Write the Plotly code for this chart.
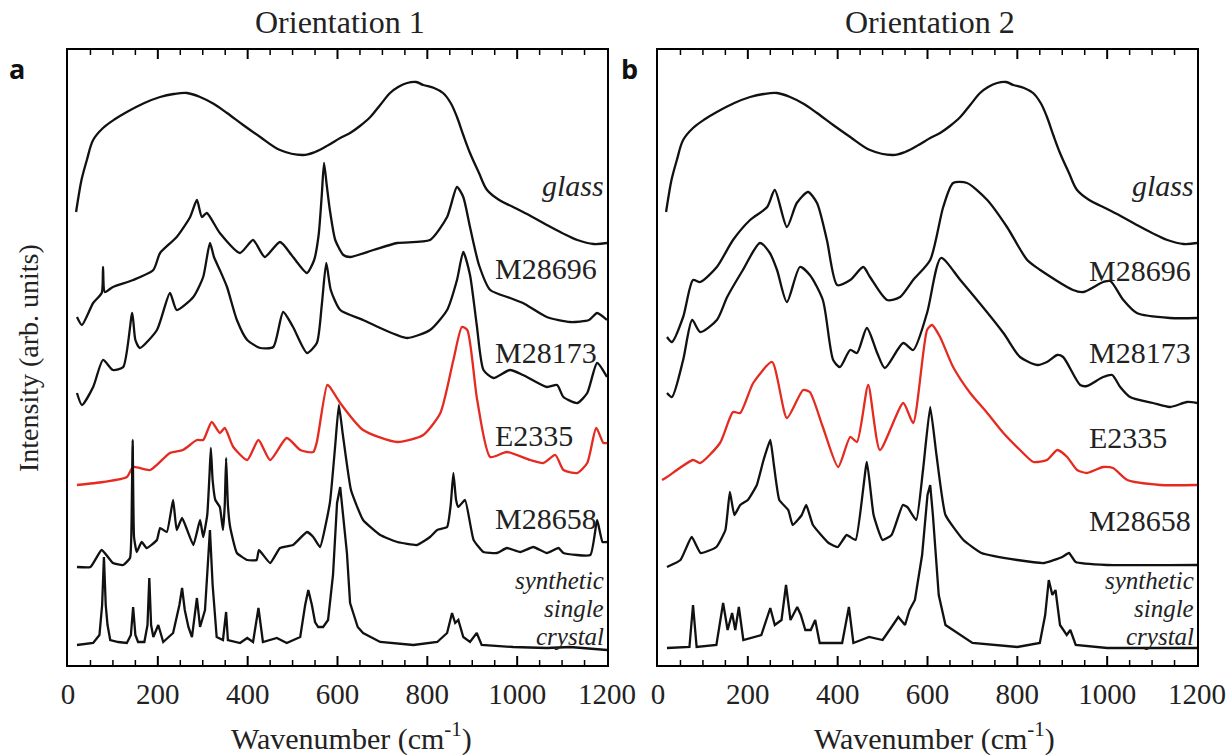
import plotly.graph_objects as go

# ---------------- data (wavenumber cm-1, intensity arb. units incl. vertical offset) -------------
glass_w = [18, 24, 30, 42, 56, 78, 105, 131, 170, 205, 235, 265, 294, 325, 354, 390, 428, 472, 523, 550,
           580, 606, 628, 650, 673, 695, 717, 735, 755, 775, 791, 815, 835, 852, 866, 880, 895, 915, 933,
           960, 991, 1030, 1066, 1100, 1134, 1170, 1200]
glass_i = [453, 470, 485, 505, 525, 537, 546, 553, 562, 568, 571, 572, 568, 561, 552, 540, 528, 515, 510, 513,
           520, 527, 532, 539, 548, 560, 572, 578, 582, 583, 580, 577, 572, 562, 548, 530, 512, 492, 475,
           465, 458, 449, 440, 432, 425, 421, 422]

# Orientation 1
m696a_w = [20, 31, 56, 75, 78, 82, 100, 145, 190, 205, 242, 272, 287, 298, 309, 338, 383, 412, 438, 472,
           501, 532, 548, 558, 565, 570, 576, 583, 595, 613, 628, 680, 733, 806, 844, 866, 880, 895, 915,
           940, 984, 1013, 1066, 1118, 1160, 1178, 1200]
m696a_i = [348, 340, 362, 372, 398, 373, 378, 385, 395, 412, 428, 448, 465, 448, 452, 432, 412, 425, 408, 423,
           408, 392, 405, 430, 470, 502, 480, 455, 425, 410, 408, 415, 422, 425, 448, 478, 468, 438, 400,
           375, 367, 362, 348, 343, 345, 352, 345]

m173a_w = [20, 31, 56, 78, 100, 123, 143, 150, 160, 198, 227, 242, 279, 301, 316, 325, 338, 354, 376, 399,
           428, 457, 479, 501, 532, 554, 565, 575, 585, 606, 657, 695, 755, 806, 844, 866, 880, 895, 910,
           925, 947, 984, 1013, 1066, 1089, 1103, 1134, 1156, 1178, 1200]
m173a_i = [272, 260, 278, 305, 295, 298, 352, 325, 317, 335, 372, 355, 368, 388, 422, 408, 395, 378, 345, 325,
           317, 318, 353, 338, 312, 322, 360, 402, 375, 355, 345, 337, 327, 335, 355, 385, 413, 390, 340,
           295, 287, 295, 290, 278, 280, 268, 262, 272, 302, 288]

e2335a_w = [20, 78, 131, 145, 183, 227, 256, 287, 301, 320, 338, 349, 368, 399, 424, 450, 487, 517, 546, 554,
            577, 583, 606, 657, 733, 791, 829, 858, 877, 889, 911, 940, 977, 1029, 1058, 1085, 1103, 1134,
            1156, 1176, 1192, 1200]
e2335a_i = [180, 183, 188, 198, 195, 212, 215, 225, 225, 243, 232, 237, 218, 205, 225, 205, 227, 215, 213, 223,
            280, 278, 262, 235, 223, 230, 252, 305, 338, 335, 265, 208, 213, 205, 202, 210, 195, 192,
            202, 237, 222, 222]

m658a_w = [20, 50, 75, 100, 123, 138, 141, 144, 147, 153, 164, 175, 198, 205, 220, 234, 242, 254, 279, 294,
           301, 310, 315, 318, 322, 328, 338, 345, 349, 352, 356, 361, 376, 399, 420, 425, 450, 472, 501,
           532, 546, 561, 583, 595, 603, 612, 630, 657, 695, 733, 777, 806, 822, 844, 852, 858, 864, 869,
           884, 903, 925, 955, 977, 1007, 1036, 1066, 1092, 1103, 1163, 1178, 1190, 1200]
m658a_i = [98, 98, 115, 102, 100, 107, 130, 225, 128, 113, 123, 117, 125, 137, 133, 165, 135, 147, 120, 145,
           128, 150, 190, 217, 185, 165, 158, 135, 160, 207, 160, 138, 112, 105, 105, 115, 102, 117, 120,
           133, 128, 118, 162, 220, 260, 230, 175, 145, 130, 123, 120, 128, 135, 138, 160, 192, 165, 158,
           165, 125, 113, 112, 117, 113, 118, 112, 117, 112, 110, 145, 123, 123]

syna_w = [20, 56, 70, 76, 80, 84, 88, 94, 112, 131, 140, 145, 150, 156, 170, 177, 181, 185, 190, 201, 212,
          234, 238, 248, 254, 260, 268, 276, 287, 294, 305, 312, 316, 322, 331, 345, 352, 356, 383, 399,
          412, 424, 434, 465, 487, 517, 528, 535, 543, 550, 557, 568, 579, 590, 599, 606, 614, 621, 628,
          645, 657, 695, 769, 822, 844, 855, 862, 869, 880, 895, 910, 921, 991, 1066, 1118, 1200]
syna_i = [20, 22, 30, 60, 108, 60, 40, 25, 23, 22, 30, 58, 30, 23, 23, 40, 87, 40, 28, 40, 23,
          32, 40, 60, 77, 55, 38, 28, 67, 38, 55, 100, 135, 80, 28, 25, 53, 25, 22, 27,
          23, 57, 23, 27, 22, 28, 60, 75, 60, 43, 38, 38, 45, 90, 162, 178, 140, 112, 62,
          38, 32, 23, 20, 23, 32, 52, 42, 45, 28, 23, 32, 20, 18, 17, 18, 15]

# Orientation 2
m696b_w = [20, 31, 56, 78, 94, 131, 167, 205, 243, 260, 287, 309, 334, 354, 376, 399, 428, 457, 472, 510,
           539, 568, 606, 635, 657, 688, 733, 777, 822, 851, 924, 947, 991, 1007, 1036, 1066, 1140, 1200]
m696b_i = [328, 323, 348, 385, 383, 398, 425, 445, 458, 475, 438, 462, 473, 462, 425, 380, 385, 398, 388, 365,
           368, 385, 405, 458, 482, 482, 465, 438, 405, 395, 375, 373, 383, 384, 365, 352, 347, 347]

m173b_w = [20, 31, 56, 76, 94, 131, 154, 189, 227, 249, 265, 287, 316, 338, 367, 390, 405, 428, 443, 465,
           488, 505, 546, 568, 599, 630, 673, 769, 806, 844, 866, 889, 902, 940, 955, 991, 1011, 1029, 1051,
           1102, 1140, 1178, 1200]
m173b_i = [272, 268, 305, 345, 333, 345, 368, 395, 422, 412, 395, 363, 398, 390, 365, 305, 298, 315, 312, 337,
           312, 297, 322, 315, 352, 407, 385, 332, 308, 300, 303, 310, 308, 280, 279, 288, 290, 278, 268,
           262, 258, 263, 262]

e2335b_w = [9, 20, 78, 94, 138, 167, 183, 212, 254, 287, 323, 338, 367, 401, 428, 443, 468, 494, 546, 568,
            599, 610, 628, 657, 695, 733, 769, 806, 836, 866, 889, 911, 933, 955, 991, 1013, 1045, 1118, 1200]
e2335b_i = [185, 188, 205, 202, 222, 253, 252, 282, 303, 247, 275, 273, 238, 198, 228, 223, 280, 215, 262, 242,
            335, 340, 328, 298, 272, 252, 232, 215, 203, 205, 215, 208, 195, 192, 198, 197, 185, 180, 180]

m658b_w = [20, 50, 75, 95, 130, 150, 160, 170, 183, 200, 220, 235, 250, 258, 270, 290, 300, 320, 330, 345,
           380, 400, 420, 440, 465, 480, 500, 520, 545, 555, 575, 590, 606, 620, 640, 680, 720, 800, 860,
           900, 915, 930, 1000, 1200]
m658b_i = [98, 105, 128, 112, 118, 135, 173, 150, 160, 165, 180, 205, 225, 200, 165, 155, 140, 150, 160, 140,
           122, 118, 130, 125, 203, 150, 125, 130, 160, 158, 145, 195, 258, 210, 150, 125, 112, 105, 102,
           108, 112, 103, 100, 100]

synb_w = [20, 70, 78, 86, 130, 145, 155, 165, 172, 180, 190, 230, 250, 260, 275, 285, 295, 310, 318, 328,
          340, 350, 360, 410, 425, 435, 470, 500, 520, 535, 550, 560, 572, 588, 600, 606, 612, 625, 640,
          700, 800, 850, 862, 870, 878, 885, 895, 910, 918, 930, 1000, 1200]
synb_i = [17, 18, 60, 18, 20, 62, 35, 52, 35, 58, 25, 30, 57, 40, 45, 80, 45, 58, 50, 35,
          35, 45, 22, 22, 58, 22, 28, 25, 38, 48, 40, 55, 65, 110, 170, 180, 150, 70, 40,
          22, 18, 22, 50, 85, 70, 75, 40, 30, 35, 20, 17, 17]

labels = ["M28696", "M28173", "E2335", "M28658"]
label_y_a = [397, 313, 230, 147]
label_y_b = [395, 313, 228, 145]
label_x_a = 947
label_x_b = 955
glass_y = 480
synth_lines = ["synthetic", "single", "crystal"]
synth_y = [85, 57, 29]

X_MAX = 1200
MAJOR_STEP = 200
MINOR_STEP = 50

BLACK = "#111111"
RED = "#e52a20"
SERIF = "Liberation Serif, Times New Roman, serif"

fig = go.Figure()

# smooth broad spectra, keep sharp ones linear
panel_a = [(glass_w, glass_i, BLACK, 1.0), (m696a_w, m696a_i, BLACK, 0.6), (m173a_w, m173a_i, BLACK, 0.6),
           (e2335a_w, e2335a_i, RED, 0.6), (m658a_w, m658a_i, BLACK, 0.4), (syna_w, syna_i, BLACK, 0)]
panel_b = [(glass_w, glass_i, BLACK, 1.0), (m696b_w, m696b_i, BLACK, 0.7), (m173b_w, m173b_i, BLACK, 0.7),
           (e2335b_w, e2335b_i, RED, 0.6), (m658b_w, m658b_i, BLACK, 0.4), (synb_w, synb_i, BLACK, 0)]

def add(panel, xa, yax):
    for xs, ys, c, sm in panel:
        line = dict(color=c, width=2.3)
        if sm > 0:
            line.update(shape="spline", smoothing=sm)
        fig.add_trace(go.Scatter(x=xs, y=ys, mode="lines", line=line,
                                 xaxis=xa, yaxis=yax, showlegend=False, hoverinfo="skip"))

add(panel_a, "x", "y")
add(panel_b, "x2", "y2")

W, H = 1227, 756
def px(x):
    return x / W
def py(y):
    return 1 - y / H

Y_BOT, Y_TOP = py(665), py(50)
PLOT_H = 615.0
TICKFONT = dict(family=SERIF, size=29, color="#222")

xa_main = dict(range=[0, X_MAX], tick0=0, dtick=MAJOR_STEP, tickmode="linear", ticks="",
               showline=True, linewidth=2, linecolor="black", mirror=True, showticklabels=True,
               showgrid=False, zeroline=False, tickfont=TICKFONT, ticklabelstandoff=2)
ya = dict(range=[0, 615], showticklabels=False, ticks="", showline=True, linewidth=2,
          linecolor="black", mirror=True, showgrid=False, zeroline=False)

fig.update_layout(
    template="none",
    width=W, height=H, margin=dict(l=0, r=0, t=0, b=0),
    paper_bgcolor="white", plot_bgcolor="rgba(0,0,0,0)",
    xaxis=dict(domain=[px(68), px(607)], anchor="y", **xa_main),
    yaxis=dict(domain=[Y_BOT, Y_TOP], anchor="x", **ya),
    xaxis2=dict(domain=[px(658), px(1197)], anchor="y2", **xa_main),
    yaxis2=dict(domain=[Y_BOT, Y_TOP], anchor="x2", **ya),
)

# inward-pointing tick marks on bottom and top frame (major every 200, minor every 50)
shapes = []
for xr, yr in (("x", "y domain"), ("x2", "y2 domain")):
    for v in range(MINOR_STEP, X_MAX, MINOR_STEP):
        major = (v % MAJOR_STEP == 0)
        L = (9 if major else 5) / PLOT_H
        lw = 2 if major else 1.5
        shapes.append(dict(type="line", xref=xr, yref=yr, x0=v, x1=v, y0=0, y1=L,
                           line=dict(color="black", width=lw), layer="above"))
        shapes.append(dict(type="line", xref=xr, yref=yr, x0=v, x1=v, y0=1, y1=1 - L,
                           line=dict(color="black", width=lw), layer="above"))
fig.update_layout(shapes=shapes)

ann = []
for ref, ly, lx in (("", label_y_a, label_x_a), ("2", label_y_b, label_x_b)):
    for t, yv in zip(labels, ly):
        ann.append(dict(x=lx, y=yv, xref="x" + ref, yref="y" + ref, text=t, showarrow=False,
                        xanchor="left", yanchor="middle", font=dict(family=SERIF, size=30, color="#222")))
    ann.append(dict(x=1198, y=glass_y, xref="x" + ref, yref="y" + ref, text="<i>glass</i>", showarrow=False,
                    xanchor="right", yanchor="middle", font=dict(family=SERIF, size=30, color="#222")))
    for t, yv in zip(synth_lines, synth_y):
        ann.append(dict(x=1198, y=yv, xref="x" + ref, yref="y" + ref, text="<i>%s</i>" % t,
                        showarrow=False, xanchor="right", yanchor="middle",
                        font=dict(family=SERIF, size=25, color="#222")))

ann += [
    dict(x=px(340), y=py(22), xref="paper", yref="paper", text="Orientation 1", showarrow=False,
         xanchor="center", yanchor="middle", font=dict(family=SERIF, size=32, color="#222")),
    dict(x=px(930), y=py(22), xref="paper", yref="paper", text="Orientation 2", showarrow=False,
         xanchor="center", yanchor="middle", font=dict(family=SERIF, size=32, color="#222")),
    dict(x=px(17), y=py(68), xref="paper", yref="paper", text="<b>a</b>", showarrow=False,
         xanchor="center", yanchor="middle", font=dict(family="Open Sans, Noto Sans, sans-serif", size=27, color="#111")),
    dict(x=px(629), y=py(68), xref="paper", yref="paper", text="<b>b</b>", showarrow=False,
         xanchor="center", yanchor="middle", font=dict(family="Open Sans, Noto Sans, sans-serif", size=27, color="#111")),
    dict(x=px(351), y=py(736), xref="paper", yref="paper", text="Wavenumber (cm<sup>-1</sup>)", showarrow=False,
         xanchor="center", yanchor="middle", font=dict(family=SERIF, size=30, color="#222")),
    dict(x=px(934), y=py(736), xref="paper", yref="paper", text="Wavenumber (cm<sup>-1</sup>)", showarrow=False,
         xanchor="center", yanchor="middle", font=dict(family=SERIF, size=30, color="#222")),
    dict(x=px(29), y=py(358), xref="paper", yref="paper", text="Intensity (arb. units)", showarrow=False,
         textangle=-90, xanchor="center", yanchor="middle", font=dict(family=SERIF, size=28, color="#222")),
]
fig.update_layout(annotations=ann)

fig.write_html("out.html")
